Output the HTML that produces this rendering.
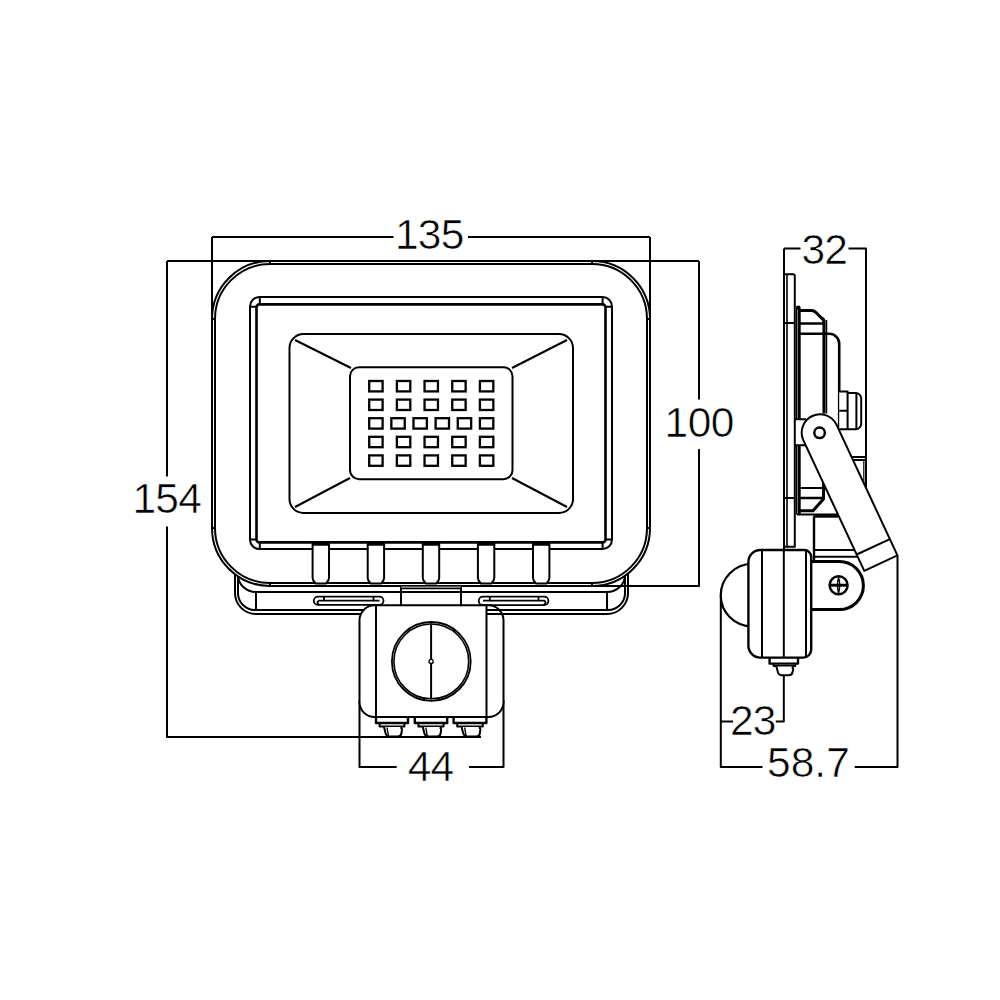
<!DOCTYPE html>
<html><head><meta charset="utf-8"><style>
html,body{margin:0;padding:0;background:#fff;width:1000px;height:1000px;overflow:hidden}
svg{display:block}
text{font-family:"Liberation Sans",sans-serif;font-size:42.5px;fill:#000}
</style></head><body>
<svg width="1000" height="1000" viewBox="0 0 1000 1000" fill="none" stroke="#000" stroke-width="2" stroke-linecap="butt" stroke-linejoin="round">
<g id="dims">
<path d="M212,237 H393.5 M468,237 H650 M212,237 V330 M650,237 V330"/>
<path d="M167,261 H699 M167,261 V476.5 M167,526.5 V737 H481"/>
<path d="M699,261 V399.5 M699,449 V586 H592"/>
<path d="M359.5,700 V767 H396.7 M469,767 H503.5 V700"/>
<path d="M784,248.5 V276 M784,248.5 H800.5 M848.5,248.5 H866 V490"/>
<path d="M720.8,721.5 H733 M775.8,721.5 H783.8 V670"/>
<path d="M720.8,596 V767 H762.5 M854.7,767 H897.5 V556"/>
</g>
<g id="texts" stroke="#fff" stroke-width="0.6">
  <text x="395" y="249" letter-spacing="-0.8">135</text>
  <text x="132.5" y="513" letter-spacing="-0.8">154</text>
  <text x="664.5" y="436.5" letter-spacing="-0.5">100</text>
  <text x="407.8" y="781" letter-spacing="-1">44</text>
  <text x="801.5" y="263.5" letter-spacing="-1">32</text>
  <text x="730" y="734.7" letter-spacing="-1">23</text>
  <text x="767.1" y="777.4" letter-spacing="0">58.7</text>
</g>
<g id="front">
<path fill="#fff" d="M235,573.5 V593 A21,21 0 0 0 256,614 H607 A21,21 0 0 0 628,593 V573.5"/>
<path d="M238,577 V593 A17,17 0 0 0 255,610 H608 A17,17 0 0 0 625,593 V577"/>
<path d="M238,575 A18,17 0 0 0 256,592 H607 A18,17 0 0 0 625,575"/>
<path d="M256,592 V610 M607,592 V610"/>
<rect x="313.8" y="596.6" width="69.7" height="8.3" rx="4.15" stroke-width="1.8"/>
<path d="M318.5,600.7 H379.5 M324,596.6 V600.7 M373.5,596.6 V600.7 M319,600.7 Q315.5,602.5 319.5,604.9" stroke-width="1.8"/>
<rect x="478.8" y="596.6" width="69.6" height="8.5" rx="4.2" stroke-width="1.8"/>
<path d="M483,600.6 H544.5 M489.8,596.6 V600.6 M538.5,596.6 V600.6 M544,600.6 Q547.5,602.5 543.5,605.1" stroke-width="1.8"/>
<rect x="212" y="261" width="438" height="325" rx="58" fill="#fff"/>
<rect x="215" y="264" width="432" height="319" rx="55"/>
<path d="M270,261 V264 M592,261 V264 M212,319 H215 M647,319 H650 M212,528 H215 M647,528 H650 M270,583 V586 M592,583 V586"/>
<path d="M592,586 H632"/>
<rect x="250" y="297" width="362" height="252" rx="9.5"/>
<rect x="256.5" y="304.4" width="349" height="238" rx="3" stroke-width="2.6"/>
<path d="M259.8,297 V304.4 M250,306.8 H256.5 M602.6,297 V304.4 M605.5,306.8 H612 M250,539.6 H256.5 M259.8,542.4 V549 M605.5,539.6 H612 M602.6,542.4 V549"/>
<rect x="289.5" y="334" width="283.5" height="179" rx="14"/>
<path d="M295,340 L351,368 M567,340 L512,368 M295,507 L350,478 M567,507 L512,478"/>
<rect x="350" y="367.2" width="162.5" height="112" rx="9" fill="#fff"/>
<g id="leds" stroke-width="2.3" stroke-linejoin="miter">
<rect x="369.20" y="381.00" width="13.4" height="10.4"/>
<rect x="396.88" y="381.00" width="13.4" height="10.4"/>
<rect x="424.56" y="381.00" width="13.4" height="10.4"/>
<rect x="452.24" y="381.00" width="13.4" height="10.4"/>
<rect x="479.92" y="381.00" width="13.4" height="10.4"/>
<rect x="369.20" y="399.60" width="13.4" height="10.4"/>
<rect x="396.88" y="399.60" width="13.4" height="10.4"/>
<rect x="424.56" y="399.60" width="13.4" height="10.4"/>
<rect x="452.24" y="399.60" width="13.4" height="10.4"/>
<rect x="479.92" y="399.60" width="13.4" height="10.4"/>
<rect x="369.20" y="418.20" width="13.4" height="10.4"/>
<rect x="391.34" y="418.20" width="13.4" height="10.4"/>
<rect x="413.48" y="418.20" width="13.4" height="10.4"/>
<rect x="435.62" y="418.20" width="13.4" height="10.4"/>
<rect x="457.76" y="418.20" width="13.4" height="10.4"/>
<rect x="479.90" y="418.20" width="13.4" height="10.4"/>
<rect x="369.20" y="436.80" width="13.4" height="10.4"/>
<rect x="396.88" y="436.80" width="13.4" height="10.4"/>
<rect x="424.56" y="436.80" width="13.4" height="10.4"/>
<rect x="452.24" y="436.80" width="13.4" height="10.4"/>
<rect x="479.92" y="436.80" width="13.4" height="10.4"/>
<rect x="369.20" y="455.40" width="13.4" height="10.4"/>
<rect x="396.88" y="455.40" width="13.4" height="10.4"/>
<rect x="424.56" y="455.40" width="13.4" height="10.4"/>
<rect x="452.24" y="455.40" width="13.4" height="10.4"/>
<rect x="479.92" y="455.40" width="13.4" height="10.4"/>
</g>
<path fill="#fff" d="M312.6,544 V578 Q312.6,580.5 315.6,583.5 H326.0 Q329.0,580.5 329.0,578 V544 Z"/>
<path d="M312.6,544.5 H329.0" stroke-width="2.5"/>
<path fill="#fff" d="M367.7,544 V578 Q367.7,580.5 370.7,583.5 H381.1 Q384.1,580.5 384.1,578 V544 Z"/>
<path d="M367.7,544.5 H384.1" stroke-width="2.5"/>
<path fill="#fff" d="M422.8,544 V578 Q422.8,580.5 425.8,583.5 H436.2 Q439.2,580.5 439.2,578 V544 Z"/>
<path d="M422.8,544.5 H439.2" stroke-width="2.5"/>
<path fill="#fff" d="M477.9,544 V578 Q477.9,580.5 480.9,583.5 H491.3 Q494.3,580.5 494.3,578 V544 Z"/>
<path d="M477.9,544.5 H494.3" stroke-width="2.5"/>
<path fill="#fff" d="M533.0,544 V578 Q533.0,580.5 536.0,583.5 H546.4 Q549.4,580.5 549.4,578 V544 Z"/>
<path d="M533.0,544.5 H549.4" stroke-width="2.5"/>
<path d="M401,586 V605 M461,586 V605"/>
<path d="M401,588.4 H461" stroke-width="1.7"/>
<path d="M401,586.9 H461" stroke="#999" stroke-width="1"/>
<rect x="359.5" y="605.3" width="144" height="111.7" rx="15" fill="#fff"/>
<path d="M376,605.3 V717 M486.5,605.3 V717"/>
<path d="M486.5,610 H560 M486.5,614 H560"/>
<circle cx="431.3" cy="661.4" r="39.4" stroke-width="1.8"/>
<circle cx="431.3" cy="661.4" r="37.4" stroke-width="1.6"/>
<path d="M431.1,623.5 V699.3"/>
<circle cx="431.1" cy="661.4" r="2.1" stroke-width="1.3" fill="#fff"/>
<path d="M376,717 V723 H408 V717" stroke-width="2.4"/>
<path d="M379.6,723.5 V726.4 H404.4 V723.5" stroke-width="2"/>
<path fill="#fff" d="M384,727 L385.5,733 Q386.5,736.5 389,736.5 H398 Q401,736.5 401.5,733 L402,729 Q400.5,728 402,727"/>
<path d="M387,727.5 L388.5,736" stroke-width="1.4"/>
<path d="M414.8,717 V723 H447.2 V717" stroke-width="2.4"/>
<path d="M418.40000000000003,723.5 V726.4 H443.59999999999997 V723.5" stroke-width="2"/>
<path fill="#fff" d="M422.8,727 L424.3,733 Q425.3,736.5 427.8,736.5 H437.2 Q440.2,736.5 440.7,733 L441.2,729 Q439.7,728 441.2,727"/>
<path d="M425.8,727.5 L427.3,736" stroke-width="1.4"/>
<path d="M453.6,717 V723 H486.4 V717" stroke-width="2.4"/>
<path d="M457.20000000000005,723.5 V726.4 H482.79999999999995 V723.5" stroke-width="2"/>
<path fill="#fff" d="M461.6,727 L463.1,733 Q464.1,736.5 466.6,736.5 H476.4 Q479.4,736.5 479.9,733 L480.4,729 Q478.9,728 480.4,727"/>
<path d="M464.6,727.5 L466.1,736" stroke-width="1.4"/>
</g>
<g id="side">
<path d="M784,274 V550 M784,546.8 H794.8 V276 Q794.8,274.3 793,274.3 H784" stroke-linejoin="miter"/>
<path d="M787,274.5 V546.5" stroke-width="1.6"/>
<path d="M784,323 H795 M784,498 H795" stroke-width="1.8"/>
<path d="M796.6,307.5 V419 M796.6,445.2 V514.4" stroke-width="1.4"/>
<path d="M799.2,309 V419 M799.2,445 V514.4" stroke-width="3"/>
<path fill="#000" stroke="none" d="M795.9,309.5 V307.8 Q795.9,305.6 798.2,305.6 Q800.7,305.6 800.7,308 V309.5 Z"/>
<path d="M800,310.5 H811.5 Q814,310.5 816,312.5 L822,318.5 Q824,319.5 824,322 V413.6" stroke-width="3.1"/>
<path d="M826.5,320 V413.6" stroke-width="1.5"/>
<path d="M800,323.5 H824" stroke-width="2.5"/>
<path d="M800,333.7 H829 A10,10 0 0 1 839.2,343.7 V430" stroke-width="2.6"/>
<path fill="#fff" d="M839.2,391.5 H847.6 V393 H855.7 A5.5,5.5 0 0 1 861.2,398.5 V423.7 A5.5,5.5 0 0 1 855.7,429.2 H839.2"/>
<path d="M847.6,392 V429.2 M856.4,393 V429.2 M839.2,410.8 H847.6"/>
<path d="M795,419.2 H806 M795,445.2 H806"/>
<path d="M800,488 H824"/>
<path d="M800,498 H823.5" stroke-width="2.5"/>
<path d="M823.5,483 V499 L813,510.8 H800" stroke-width="3"/>
<path d="M797,514.4 H838"/>
<path d="M813.5,516.4 H838" stroke-width="2.6"/>
<path d="M814,516.4 V561" stroke-width="2.4"/>
<path d="M850,457 H866 M851.5,460 H866" stroke-width="1.8"/>
<path d="M863.8,460 V487" stroke-width="1.2"/>
<path d="M813,550 H855 M813,556.8 H858"/>
<path fill="#fff" d="M803.41,440.33 A18.3,18.3 0 0 1 836.59,424.87 L897.44,555.37 L864.27,570.84 Z"/>
<path d="M856.66,554.53 L889.84,539.06"/>
<circle cx="819.6" cy="432.8" r="5.3" stroke-width="2.5"/>
<path fill="#fff" d="M812,561.6 H839.4 A24,24 0 0 1 839.4,609.6 H812" stroke-width="3"/>
<circle cx="838.6" cy="585.2" r="9" stroke-width="2.5"/>
<path d="M829.8,585.2 H847.4" stroke-width="2.9"/>
<path d="M838.6,577.5 Q836.3,585.2 838.6,593 Q840.9,585.2 838.6,577.5" stroke-width="1.4"/>
<path fill="#fff" d="M752,564 A31,31 0 0 0 752,626.5" stroke-width="2.2"/>
<path fill="#fff" d="M760.4,550 H804.2 A7,7 0 0 1 811.2,557 V649.6 A8,8 0 0 1 803.2,657.6 H760.4 A12,12 0 0 1 748.4,645.6 V562 A12,12 0 0 1 760.4,550 Z" stroke-width="2.4"/>
<path d="M762,550 V657.6 M783.8,550 V657.6 M806,550 V657.6"/>
<path d="M769.6,657.6 V663.6 H798 V657.6" stroke-width="2.4"/>
<path d="M773.6,664 V666 H795.2 V664"/>
<path fill="#fff" d="M776.4,666.5 L778,672.5 Q779,675.2 781.5,675.2 H789 Q792,675.2 792.6,672 L793.2,669 Q792,668 793.2,666.5"/>
</g>
</svg>
</body></html>
